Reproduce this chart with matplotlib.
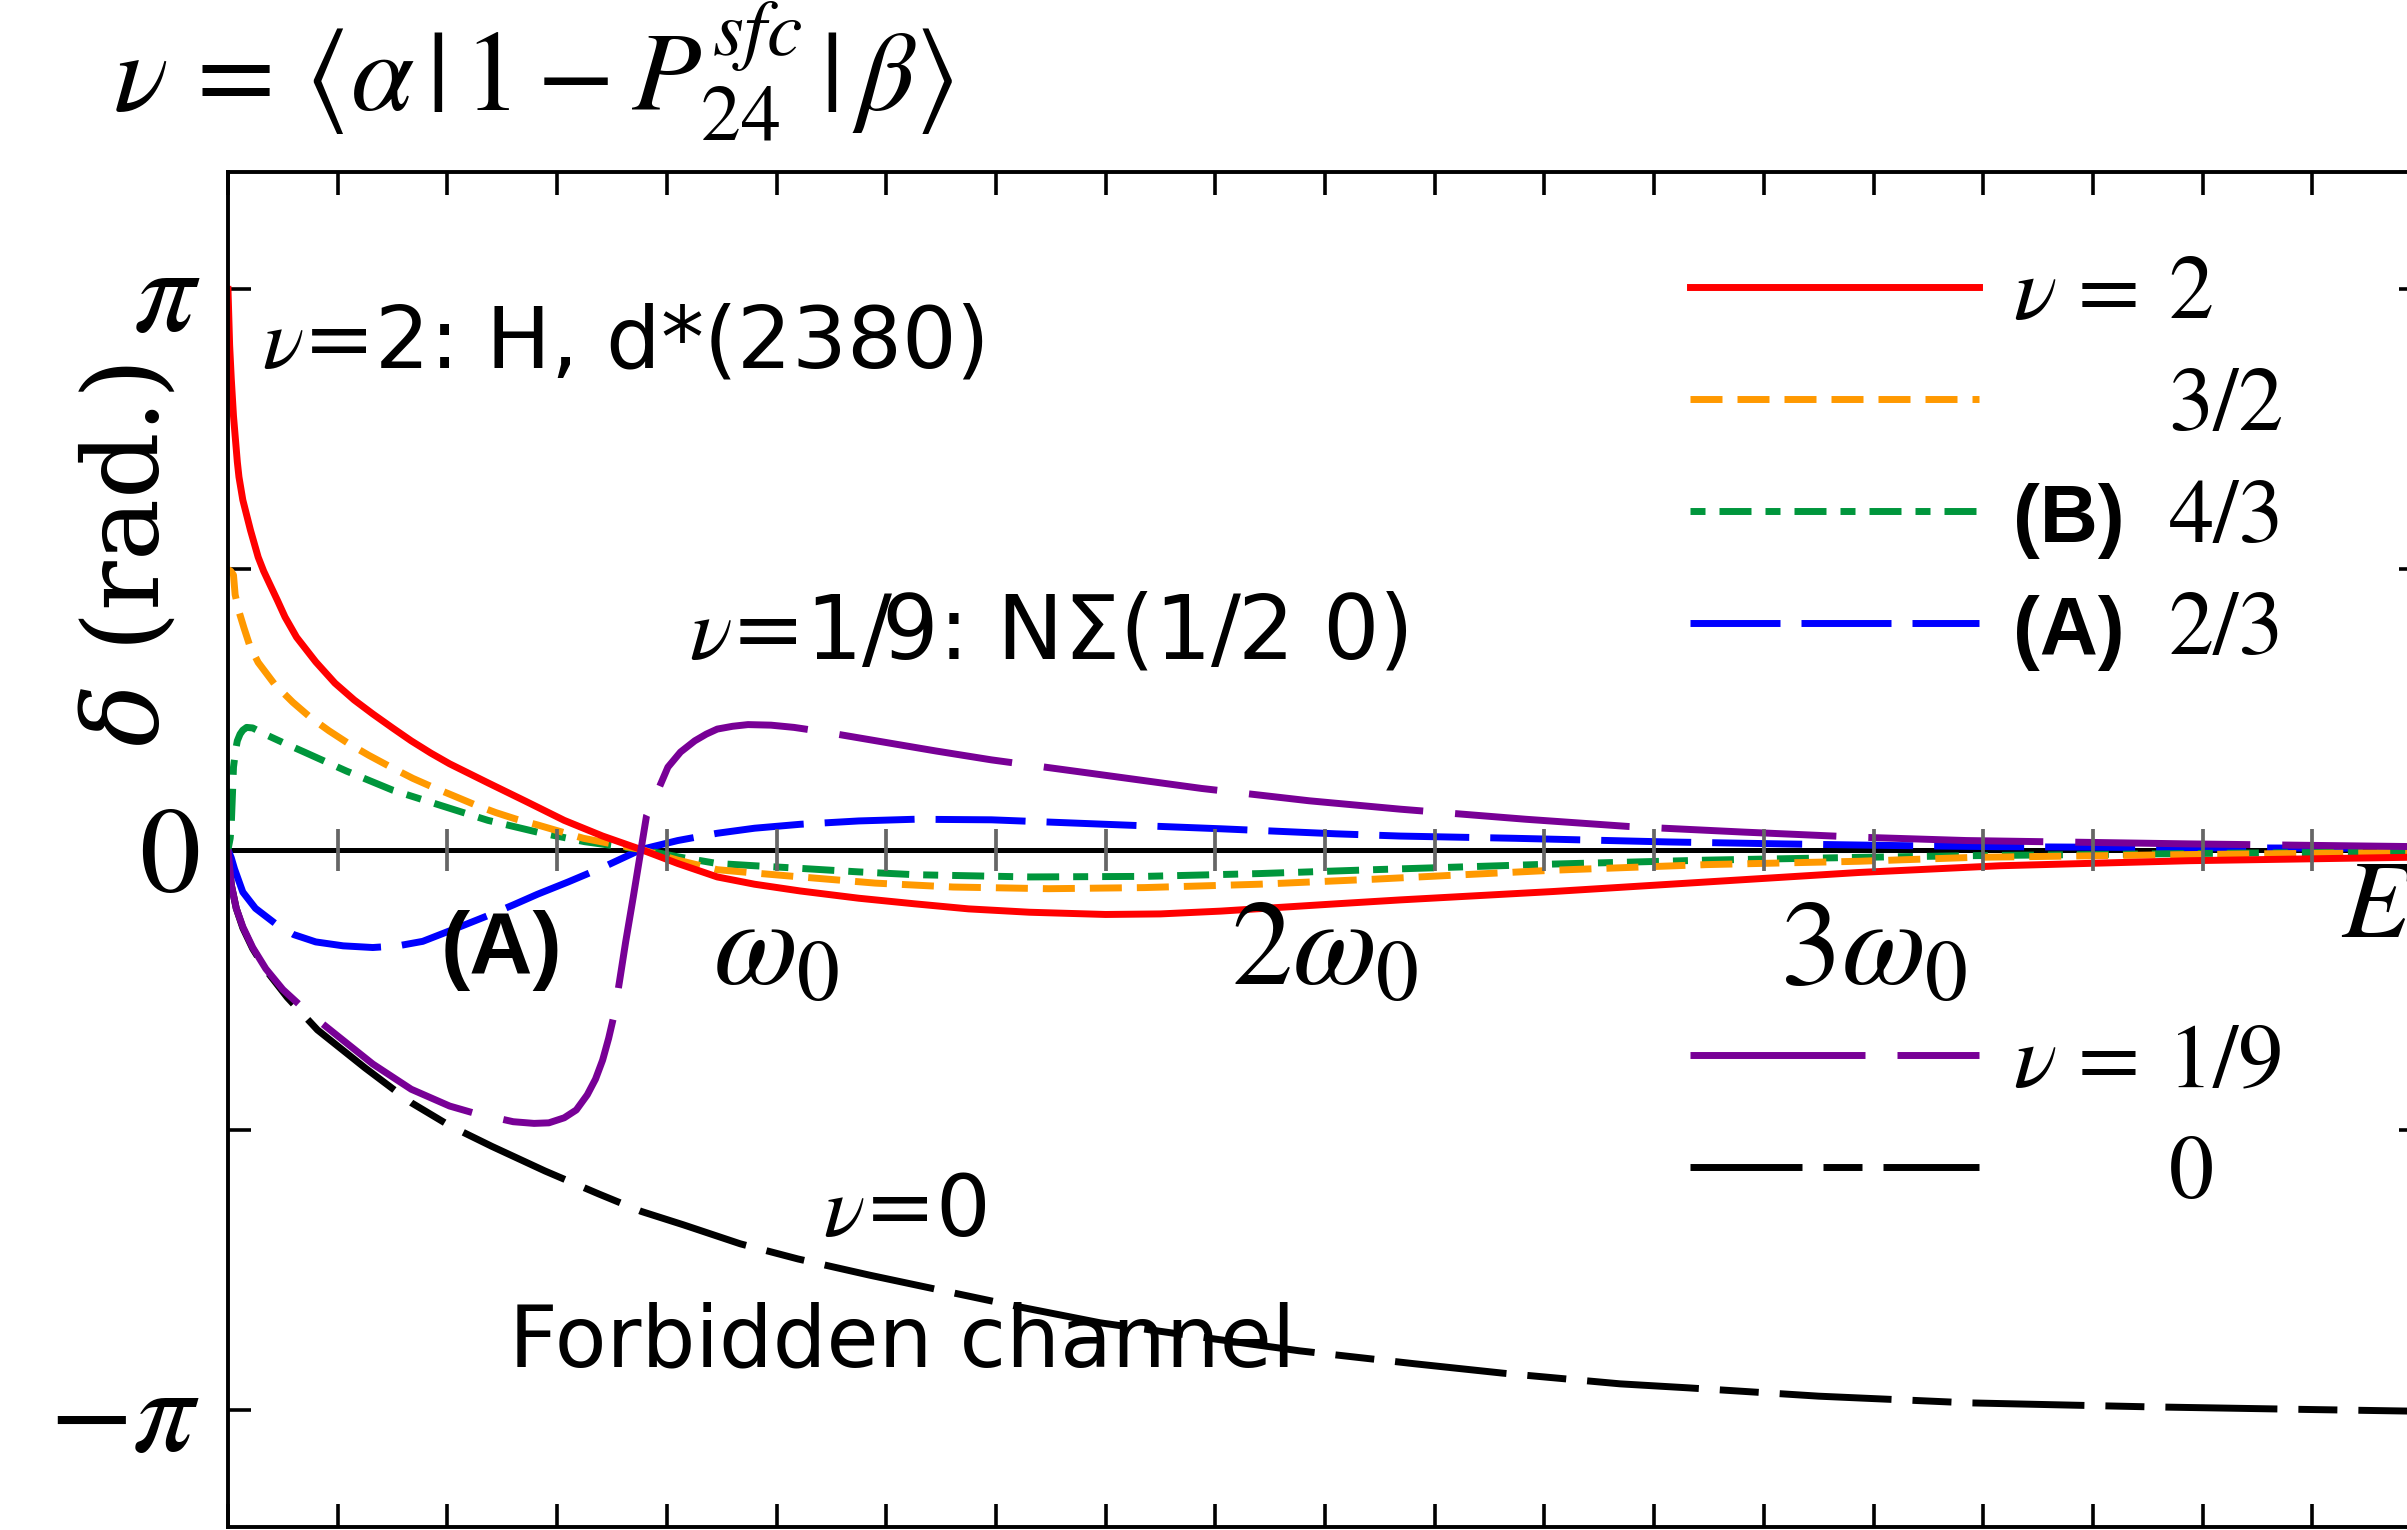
import numpy as np
import matplotlib
matplotlib.use("Agg")
import matplotlib.pyplot as plt

plt.rcParams['mathtext.fontset'] = 'stix'
plt.rcParams['font.family'] = ['STIXGeneral', 'DejaVu Sans']
SANS = ['DejaVu Sans']
SANS_B = ['Liberation Sans', 'DejaVu Sans']

# ---- data: E in units of omega_0, delta in units of pi ----
e_nu2 = [0, 0.003, 0.006, 0.01, 0.017, 0.02, 0.027, 0.041, 0.055, 0.065, 0.076, 0.09, 0.104,
         0.125, 0.16, 0.195, 0.23, 0.264, 0.30, 0.334, 0.37, 0.404, 0.474, 0.543, 0.613,
         0.683, 0.753, 0.82, 0.892, 0.96, 1.043, 1.15, 1.252, 1.35, 1.461, 1.60, 1.70,
         1.81, 2.02, 2.137, 2.416, 2.695, 2.974, 3.231, 3.576, 3.97, 4.0]
d_nu2 = [1.0, 0.90, 0.84, 0.774, 0.692, 0.665, 0.624, 0.570, 0.522, 0.497, 0.474, 0.445,
         0.415, 0.379, 0.335, 0.297, 0.267, 0.242, 0.217, 0.194, 0.172, 0.153, 0.119,
         0.086, 0.052, 0.024, 0.0, -0.025, -0.049, -0.062, -0.074, -0.087, -0.097, -0.106,
         -0.112, -0.116, -0.115, -0.110, -0.097, -0.090, -0.075, -0.058, -0.041, -0.029,
         -0.020, -0.014, -0.013]

e_nu32 = [0, 0.005, 0.01, 0.013, 0.02, 0.029, 0.04, 0.055, 0.085, 0.118, 0.15, 0.184, 0.22,
          0.257, 0.297, 0.337, 0.374, 0.411, 0.45, 0.488, 0.526, 0.564, 0.648, 0.753, 0.82,
          0.892, 0.96, 1.032, 1.18, 1.322, 1.496, 1.671, 1.88, 2.09, 2.416, 2.695, 2.974,
          3.183, 3.576, 4.0]
d_nu32 = [0.5, 0.497, 0.49, 0.455, 0.425, 0.396, 0.363, 0.334, 0.295, 0.263, 0.236, 0.212,
          0.189, 0.168, 0.147, 0.127, 0.111, 0.096, 0.080, 0.066, 0.054, 0.044, 0.020, 0.0,
          -0.019, -0.036, -0.042, -0.048, -0.060, -0.067, -0.070, -0.068, -0.062, -0.053,
          -0.037, -0.027, -0.021, -0.014, -0.009, -0.005]

e_nu43 = [0, 0.004, 0.006, 0.01, 0.014, 0.017, 0.022, 0.027, 0.034, 0.045, 0.069, 0.1,
          0.139, 0.216, 0.30, 0.39, 0.474, 0.564, 0.65, 0.753, 0.82, 0.892, 0.96, 1.032,
          1.15, 1.252, 1.461, 1.671, 1.88, 2.09, 2.416, 2.695, 2.974, 3.18, 3.6, 4.0]
d_nu43 = [0, 0.02, 0.045, 0.147, 0.178, 0.194, 0.206, 0.213, 0.218, 0.217, 0.205, 0.191,
          0.174, 0.140, 0.106, 0.078, 0.052, 0.031, 0.014, 0, -0.013, -0.025, -0.029,
          -0.033, -0.040, -0.045, -0.049, -0.048, -0.043, -0.036, -0.026, -0.019, -0.014,
          -0.011, -0.007, -0.004]

e_nu23 = [0, 0.006, 0.012, 0.027, 0.05, 0.09, 0.12, 0.16, 0.21, 0.264, 0.31, 0.355, 0.41,
          0.474, 0.52, 0.564, 0.62, 0.683, 0.753, 0.82, 0.892, 0.96, 1.043, 1.15, 1.252,
          1.392, 1.60, 1.81, 2.02, 2.137, 2.346, 2.625, 2.834, 3.043, 3.23, 3.6, 4.0]
d_nu23 = [0, -0.015, -0.035, -0.076, -0.105, -0.135, -0.152, -0.165, -0.172, -0.175,
          -0.172, -0.164, -0.143, -0.118, -0.099, -0.080, -0.058, -0.032, 0, 0.016, 0.029,
          0.038, 0.045, 0.051, 0.054, 0.053, 0.045, 0.037, 0.028, 0.024, 0.020, 0.0135,
          0.010, 0.007, 0.005, 0.003, 0.002]

e_nu19 = [0, 0.006, 0.015, 0.027, 0.045, 0.069, 0.1, 0.139, 0.195, 0.264, 0.334, 0.404,
          0.45, 0.488, 0.52, 0.558, 0.585, 0.613, 0.635, 0.655, 0.67, 0.683, 0.694, 0.704,
          0.714, 0.725, 0.739, 0.753, 0.763, 0.781, 0.802, 0.825, 0.851, 0.872, 0.892,
          0.92, 0.948, 0.99, 1.032, 1.08, 1.182, 1.29, 1.392, 1.573, 1.775, 1.971, 2.137,
          2.366, 2.555, 2.765, 2.974, 3.169, 3.576, 4.0]
d_nu19 = [0, -0.063, -0.105, -0.138, -0.175, -0.213, -0.250, -0.285, -0.329, -0.383,
          -0.428, -0.458, -0.471, -0.479, -0.486, -0.489, -0.488, -0.479, -0.465, -0.438,
          -0.410, -0.376, -0.337, -0.295, -0.234, -0.165, -0.084, 0, 0.060, 0.099, 0.147,
          0.174, 0.194, 0.206, 0.215, 0.220, 0.223, 0.222, 0.218, 0.211, 0.194, 0.176,
          0.160, 0.136, 0.109, 0.087, 0.072, 0.054, 0.041, 0.031, 0.022, 0.016, 0.010, 0.005]

e_nu0 = [0, 0.006, 0.015, 0.027, 0.045, 0.069, 0.108, 0.163, 0.25, 0.334, 0.404, 0.481,
         0.578, 0.676, 0.753, 0.83, 0.934, 1.039, 1.17, 1.3, 1.45, 1.59, 1.785, 1.953,
         2.162, 2.325, 2.538, 2.66, 2.9, 3.176, 3.5, 3.807, 4.0]
d_nu0 = [0, -0.063, -0.105, -0.140, -0.177, -0.215, -0.264, -0.322, -0.390, -0.452,
         -0.493, -0.530, -0.574, -0.615, -0.646, -0.670, -0.704, -0.731, -0.760, -0.787,
         -0.818, -0.845, -0.872, -0.895, -0.918, -0.935, -0.954, -0.961, -0.976, -0.988,
         -0.995, -1.0, -1.003]

legend_top = ['2', '3/2', '4/3', '2/3']
prefix_top = [r'$\nu$ =', '', '(B)', '(A)']
legend_bottom = ['1/9', '0']
prefix_bottom = [r'$\nu$ =', '']

# ---- figure ----
W, H, DPI = 2407, 1530, 100
fig = plt.figure(figsize=(W / DPI, H / DPI), dpi=DPI)
ax = fig.add_axes([228 / W, 3 / H, 2194 / W, 1355 / H])
ax.set_xlim(0, 4)
ax.set_ylim(-3.8, 3.8)

LW = 5.0          # pt
lwpx = LW * DPI / 72


def dash(*px):
    # dash lengths given in pixels -> linewidth units
    return (0, tuple(p / lwpx for p in px))


# axis line through zero (Mathematica style)
ax.axhline(0, color='black', lw=3.6, zorder=1.5)

kw = dict(lw=LW, solid_joinstyle='round')
l0, = ax.plot(e_nu0, np.pi * np.array(d_nu0), color='black',
              ls=dash(112, 21, 39, 21), **kw)
l23, = ax.plot(e_nu23, np.pi * np.array(d_nu23), color='#0000ff',
               ls=dash(90, 21), **kw)
l43, = ax.plot(e_nu43, np.pi * np.array(d_nu43), color='#00963c',
               ls=dash(15, 14, 32, 14), **kw)
l32, = ax.plot(e_nu32, np.pi * np.array(d_nu32), color='#ff9900',
               ls=dash(32, 15), **kw)
l2, = ax.plot(e_nu2, np.pi * np.array(d_nu2), color='#ff0000', **kw)
l19, = ax.plot(e_nu19, np.pi * np.array(d_nu19), color='#780096',
               ls=dash(175, 32), **kw)

# gray ticks on the zero axis
xt = np.round(np.arange(0.2, 4.0, 0.2), 1)
ax.plot(xt, np.zeros_like(xt), ls='none', marker='|', ms=30, mew=2.7,
        color='#666666', zorder=5)

# frame
for s in ax.spines.values():
    s.set_linewidth(2.8)
ax.set_xticks(np.round(np.arange(0, 4.01, 0.2), 1))
ax.tick_params(axis='x', direction='in', top=True, bottom=True,
               labelbottom=False, length=16.5, width=2.6)
ax.set_yticks([np.pi, np.pi / 2, 0, -np.pi / 2, -np.pi])
ax.set_yticklabels([r'$\pi$', '', '0', '', r'$-\pi$'])
ax.tick_params(axis='y', direction='in', left=True, right=True,
               length=16.5, width=2.6, labelsize=88, pad=20)

ax.set_ylabel(r'$\delta$ (rad.)', family='DejaVu Serif', math_fontfamily='dejavuserif',
              fontsize=75, va='center')
ax.yaxis.set_label_coords(-0.045, 0.7166)

# energy labels on the zero axis
for k, lbl in zip([1, 2, 3], [r'$\omega_0$', r'$2\omega_0$', r'$3\omega_0$']):
    ax.annotate(lbl, xy=(k, 0), xytext=(0, -97), textcoords='offset points',
                ha='center', va='baseline', fontsize=88)
ax.text(3.853, -0.49, r'$E$', fontsize=80, ha='left', va='baseline')

fig.text(113 / W, 1 - 112 / H,
         r'$\nu\,=\,\langle\alpha\,|\,1-P^{sfc}_{24}\,|\,\beta\rangle$',
         fontsize=82, ha='left', va='baseline')

# annotations
ax.text(0.062, 2.705, r'$\nu$=2: H, d*(2380)', family=SANS, fontsize=62)
ax.text(0.840, 1.073, r'$\nu$=1/9: NΣ(1/2 0)', family=SANS, fontsize=64)
ax.text(0.387, -0.69, '(A)', family=SANS_B, fontsize=63, fontweight='bold')
ax.text(1.085, -2.168, r'$\nu$=0', family=SANS, fontsize=62)
ax.text(0.512, -2.902, 'Forbidden channel', family=SANS, fontsize=61)

# legends
leg_kw = dict(frameon=False, borderpad=0, borderaxespad=0, handlelength=3.2,
              handletextpad=2.1, labelspacing=0.32,
              prop={'family': 'STIXGeneral', 'size': 65})
leg1 = fig.legend([l2, l32, l43, l23], legend_top, loc='upper left',
                  bbox_to_anchor=(1690 / W, 1 - 255 / H), **leg_kw)
leg2 = fig.legend([l19, l0], legend_bottom, loc='upper left',
                  bbox_to_anchor=(1690 / W, 1 - 1023 / H), **leg_kw)

fig.canvas.draw()
for leg, prefixes in [(leg1, prefix_top), (leg2, prefix_bottom)]:
    for t, pre in zip(leg.get_texts(), prefixes):
        if not pre:
            continue
        x0, y0 = t.get_transform().transform(t.get_position())
        fx, fy = fig.transFigure.inverted().transform((x0 - 155, y0))
        if pre.startswith('('):
            fig.text(fx, fy, pre, family=SANS_B, fontsize=58, fontweight='bold',
                     va='baseline')
        else:
            fig.text(fx, fy, pre, fontsize=65, va='baseline')

fig.savefig('out.png', dpi=DPI)
